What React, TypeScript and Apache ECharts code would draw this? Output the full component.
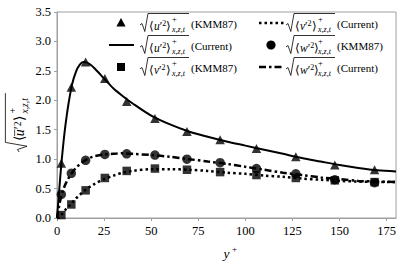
import React, { useEffect, useRef } from "react";
import * as echarts from "echarts";

// ---- data ----
const kmmX = [2.3, 7.6, 15.2, 25.4, 37, 52, 69, 86.6, 105.9, 126.8, 147.5, 168.6];
const kmmU = [0.93, 2.22, 2.65, 2.37, 1.98, 1.69, 1.47, 1.33, 1.18, 1.04, 0.9, 0.82];
const kmmV = [0.05, 0.23, 0.47, 0.68, 0.8, 0.84, 0.82, 0.78, 0.73, 0.68, 0.64, 0.61];
const kmmW = [0.4, 0.76, 0.98, 1.08, 1.09, 1.07, 1.0, 0.94, 0.84, 0.75, 0.65, 0.6];

const curX = [0, 1, 2, 3, 4, 5, 6, 8, 10, 12, 14, 16, 18, 20, 25, 30, 35, 40, 50, 60, 70, 80, 90, 100, 110, 120, 130, 140, 150, 160, 170, 180];
const curU = [0, 0.4, 0.8, 1.15, 1.45, 1.7, 1.92, 2.27, 2.48, 2.6, 2.65, 2.64, 2.6, 2.54, 2.37, 2.2, 2.07, 1.95, 1.74, 1.59, 1.47, 1.38, 1.3, 1.23, 1.16, 1.09, 1.02, 0.96, 0.9, 0.85, 0.81, 0.79];
const curV = [0, 0.01, 0.04, 0.08, 0.12, 0.16, 0.19, 0.26, 0.33, 0.39, 0.45, 0.5, 0.54, 0.58, 0.66, 0.72, 0.77, 0.8, 0.83, 0.83, 0.82, 0.8, 0.77, 0.75, 0.72, 0.7, 0.67, 0.65, 0.63, 0.62, 0.61, 0.61];
const curW = [0, 0.18, 0.34, 0.45, 0.54, 0.61, 0.67, 0.77, 0.85, 0.91, 0.96, 1.0, 1.03, 1.05, 1.08, 1.09, 1.1, 1.09, 1.07, 1.04, 1.0, 0.96, 0.92, 0.87, 0.82, 0.77, 0.73, 0.69, 0.66, 0.63, 0.62, 0.61];

const xTicks = { min: 0, max: 180, interval: 25 };
const yTicks = { min: 0, max: 3.5, interval: 0.5 };

const legendItems = [
  { col: 0, row: 0, letter: "u", src: "(KMM87)", mark: "triangle" },
  { col: 0, row: 1, letter: "u", src: "(Current)", mark: "solid" },
  { col: 0, row: 2, letter: "v", src: "(KMM87)", mark: "square" },
  { col: 1, row: 0, letter: "v", src: "(Current)", mark: "dotted" },
  { col: 1, row: 1, letter: "w", src: "(KMM87)", mark: "circle" },
  { col: 1, row: 2, letter: "w", src: "(Current)", mark: "dashdot" },
];

const FONT = "Liberation Serif";
const DOTTED = [2.5, 3];
const DASHDOT = [7, 3, 2.5, 3];

function txt(x: number, y: number, text: string, size: number, italic = false, rich?: any) {
  const style: any = {
    text,
    fill: "#000",
    fontSize: size,
    fontFamily: FONT,
    fontStyle: italic ? "italic" : "normal",
    textAlign: "left",
    textVerticalAlign: "middle",
    align: "left",
    verticalAlign: "middle",
  };
  if (rich) style.rich = rich;
  return { type: "text", x, y, silent: true, style };
}

function buildExpr(ox: number, oy: number, letter: string, bar: boolean, k = 1) {
  const els: any[] = [];
  const baseX = ox + 9 * k;
  const baseW = 24 * k;
  const subW = 16 * k;
  const end = baseX + baseW + subW;
  els.push({
    type: "polyline",
    silent: true,
    shape: {
      points: [
        [ox, oy + 1 * k],
        [ox + 2 * k, oy - 0.5 * k],
        [ox + 4.8 * k, oy + 7.5 * k],
        [ox + 8 * k, oy - 10.5 * k],
        [end, oy - 10.5 * k],
      ],
    },
    style: { stroke: "#000", lineWidth: 0.8, fill: null },
  });
  const sz = 11.5 * k;
  const rich = {
    p: { fontSize: sz, fontFamily: FONT, fill: "#000" },
    i: { fontSize: sz, fontFamily: FONT, fontStyle: "italic", fill: "#000" },
    s: { fontSize: sz * 0.7, fontFamily: FONT, fill: "#000", padding: [0, 0, 4, 0] },
  };
  els.push(txt(baseX, oy + 1.5 * k, `{p|⟨}{i|${letter}}{p|′}{s|2}{p|⟩}`, sz, false, rich));
  if (bar) {
    els.push({
      type: "line",
      silent: true,
      shape: { x1: baseX + 4.3 * k, y1: oy - 2.8 * k, x2: baseX + 9.8 * k, y2: oy - 2.8 * k },
      style: { stroke: "#000", lineWidth: 0.7 },
    });
  }
  els.push(txt(baseX + baseW - 1 * k, oy - 5 * k, "+", 8.5 * k));
  els.push(txt(baseX + baseW - 1 * k, oy + 5.5 * k, "x,z,t", 8 * k, true));
  return { els, end };
}

function legendGraphics() {
  const out: any[] = [];
  const colMark = [121, 271];
  const colRad = [140, 286];
  const rowY = [23, 45, 67];
  for (const it of legendItems) {
    const mx = colMark[it.col];
    const my = rowY[it.row];
    if (it.mark === "triangle") {
      out.push({ type: "polygon", silent: true, shape: { points: [[mx, my - 5], [mx + 4.6, my + 3.5], [mx - 4.6, my + 3.5]] }, style: { fill: "#000" } });
    } else if (it.mark === "square") {
      out.push({ type: "rect", silent: true, shape: { x: mx - 4, y: my - 4, width: 8, height: 8 }, style: { fill: "#000" } });
    } else if (it.mark === "circle") {
      out.push({ type: "circle", silent: true, shape: { cx: mx, cy: my, r: 4.6 }, style: { fill: "#000" } });
    } else {
      const dash = it.mark === "dotted" ? DOTTED : it.mark === "dashdot" ? DASHDOT : null;
      out.push({
        type: "line",
        silent: true,
        shape: { x1: mx - 12, y1: my, x2: mx + 13, y2: my },
        style: { stroke: "#000", lineWidth: it.mark === "solid" ? 2 : 2.5, lineDash: dash },
      });
    }
    const { els, end } = buildExpr(colRad[it.col], my + 1, it.letter, false);
    out.push(...els);
    out.push(txt(end + 2, my + 1, it.src, 11));
  }
  return out;
}

function yTitleGraphic() {
  const { els } = buildExpr(0, 0, "u", true, 1.2);
  return {
    type: "group",
    x: 18,
    y: 152,
    rotation: Math.PI / 2,
    silent: true,
    children: els,
  };
}

export default function App() {
  const ref = useRef<HTMLDivElement>(null);
  useEffect(() => {
    if (!ref.current) return;
    const chart = echarts.init(ref.current, undefined, { renderer: "svg" });
    const axisGray = "#a0a0a0";
    chart.setOption({
      animation: false,
      backgroundColor: "#fff",
      textStyle: { fontFamily: FONT },
      grid: { left: 57, right: 2, top: 12, bottom: 43, show: true, borderColor: axisGray, borderWidth: 1 },
      xAxis: {
        type: "value",
        ...xTicks,
        name: "y",
        nameLocation: "middle",
        nameGap: 28,
        nameTextStyle: { fontFamily: FONT, fontStyle: "italic", fontSize: 13.5, color: "#000" },
        axisLine: { lineStyle: { color: axisGray } },
        axisTick: { show: true, length: 3, lineStyle: { color: axisGray } },
        axisLabel: { fontFamily: FONT, fontSize: 12.5, color: "#000", showMaxLabel: false, margin: 6 },
        splitLine: { show: false },
      },
      yAxis: {
        type: "value",
        ...yTicks,
        axisLine: { show: true, lineStyle: { color: axisGray } },
        axisTick: { show: true, length: 3, lineStyle: { color: axisGray } },
        axisLabel: { fontFamily: FONT, fontSize: 12.5, color: "#000", formatter: (v: number) => v.toFixed(1), margin: 6 },
        splitLine: { show: false },
      },
      graphic: [
        ...legendGraphics(),
        yTitleGraphic(),
        txt(232, 249, "+", 9),
      ],
      series: [
        { name: "u Current", type: "line", data: curX.map((x, i) => [x, curU[i]]), showSymbol: false, symbol: "none", smooth: 0.3, lineStyle: { color: "#000", width: 2 }, z: 2 },
        { name: "v Current", type: "line", data: curX.map((x, i) => [x, curV[i]]), showSymbol: false, symbol: "none", smooth: 0.3, lineStyle: { color: "#000", width: 2.5, type: DOTTED }, z: 2 },
        { name: "w Current", type: "line", data: curX.map((x, i) => [x, curW[i]]), showSymbol: false, symbol: "none", smooth: 0.3, lineStyle: { color: "#000", width: 2.5, type: DASHDOT }, z: 2 },
        { name: "u KMM87", type: "scatter", data: kmmX.map((x, i) => [x, kmmU[i]]), symbol: "triangle", symbolSize: [9.5, 9], itemStyle: { color: "#000" }, z: 3 },
        { name: "v KMM87", type: "scatter", data: kmmX.map((x, i) => [x, kmmV[i]]), symbol: "rect", symbolSize: 8.5, itemStyle: { color: "#000" }, z: 3 },
        { name: "w KMM87", type: "scatter", data: kmmX.map((x, i) => [x, kmmW[i]]), symbol: "circle", symbolSize: 9.5, itemStyle: { color: "#000" }, z: 3 },
      ],
    });
    return () => chart.dispose();
  }, []);
  return <div ref={ref} style={{ width: 399, height: 265, position: "absolute", left: 0, top: 0 }} />;
}
